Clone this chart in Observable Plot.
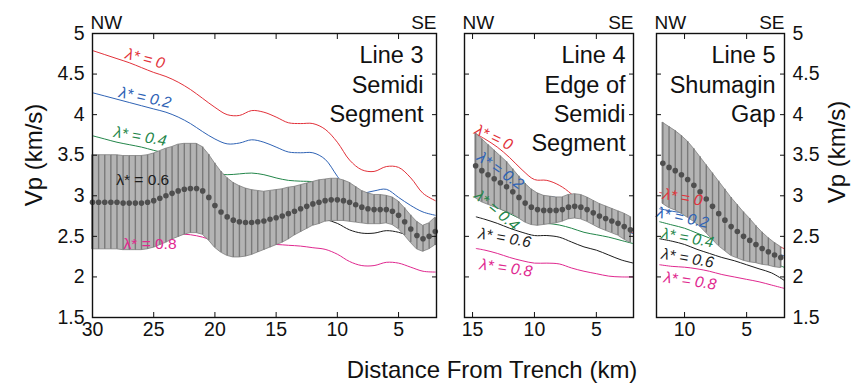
<!DOCTYPE html>
<html><head><meta charset="utf-8">
<script src="https://cdn.jsdelivr.net/npm/d3@7"></script>
<script src="https://cdn.jsdelivr.net/npm/@observablehq/plot@0.6"></script>
<style>
body{margin:0;background:#fff;font-family:"Liberation Sans",Arial,Helvetica,sans-serif;}
#wrap{position:relative;width:854px;height:384px;overflow:hidden;background:#fff;}
.p{position:absolute;top:0;}
.lab{position:absolute;font-size:24px;color:#111;white-space:nowrap;line-height:1;}
</style></head><body>
<div id="wrap"></div>
<script>
// ---------- shared labels / ticks ----------
const lambdaLabels = ["λ* = 0", "λ* = 0.2", "λ* = 0.4", "λ* = 0.6", "λ* = 0.8"];
const yTicks = [1.5, 2, 2.5, 3, 3.5, 4, 4.5, 5];
const xTitle = "Distance From Trench (km)";
const yTitle = "Vp (km/s)";

// ---------- Line 3 (Semidi Segment) ----------
const line3Ticks = [30, 25, 20, 15, 10, 5];
const line3Dist = [30,29.5,29,28.5,28,27.5,27,26.5,26,25.5,25,24.5,24,23.5,23,22.5,22,21.5,21,20.5,20,19.5,19,18.5,18,17.5,17,16.5,16,15.5,15,14.5,14,13.5,13,12.5,12,11.5,11,10.5,10,9.5,9,8.5,8,7.5,7,6.5,6,5.5,5,4.5,4,3.5,3,2.5,2];
const line3Mean = [2.92,2.92,2.92,2.92,2.92,2.91,2.91,2.91,2.91,2.92,2.94,2.97,3.00,3.03,3.06,3.08,3.09,3.09,3.06,2.98,2.88,2.80,2.74,2.70,2.68,2.67,2.67,2.68,2.69,2.71,2.73,2.75,2.78,2.81,2.84,2.87,2.90,2.92,2.94,2.95,2.95,2.94,2.92,2.89,2.86,2.84,2.83,2.83,2.83,2.81,2.76,2.68,2.59,2.51,2.47,2.50,2.56];
const line3Err = [0.58,0.58,0.58,0.58,0.58,0.58,0.58,0.58,0.58,0.58,0.58,0.58,0.58,0.57,0.57,0.56,0.55,0.55,0.54,0.53,0.52,0.50,0.48,0.46,0.44,0.42,0.40,0.38,0.36,0.35,0.34,0.33,0.32,0.30,0.29,0.28,0.27,0.27,0.26,0.26,0.26,0.25,0.24,0.22,0.20,0.19,0.18,0.18,0.17,0.17,0.17,0.17,0.17,0.17,0.16,0.16,0.17];
const line3LamDist = [30,29,28,27,26,25,24,23,22,21,20,19,18,17,16,15,14,13,12,11,10,9,8,7,6,5,4,3,2];
const line3Lam0 = [4.79,4.74,4.69,4.64,4.58,4.52,4.47,4.40,4.31,4.20,4.09,4.00,3.99,4.05,4.03,3.97,3.90,3.89,3.89,3.82,3.66,3.44,3.32,3.30,3.36,3.35,3.22,3.03,2.94];
const line3Lam2 = [4.27,4.23,4.19,4.15,4.11,4.07,4.03,3.97,3.89,3.79,3.70,3.64,3.65,3.69,3.66,3.60,3.54,3.53,3.53,3.45,3.24,3.04,3.03,3.06,3.08,2.98,2.88,2.80,2.76];
const line3Lam4 = [3.74,3.70,3.66,3.63,3.60,3.56,3.52,3.46,3.40,3.34,3.28,3.26,3.27,3.28,3.26,3.22,3.19,3.18,3.17,3.10,2.98,2.84,2.80,2.80,2.82,2.76,2.68,2.62,2.58];
const line3Lam6 = [3.20,3.18,3.16,3.14,3.12,3.10,3.08,3.05,3.02,2.97,2.92,2.87,2.84,2.83,2.82,2.80,2.78,2.76,2.74,2.71,2.66,2.58,2.54,2.54,2.57,2.55,2.50,2.45,2.40];
const line3Lam8 = [2.60,2.60,2.59,2.58,2.57,2.55,2.54,2.53,2.52,2.49,2.44,2.41,2.40,2.40,2.40,2.40,2.39,2.38,2.36,2.34,2.28,2.19,2.14,2.14,2.18,2.17,2.12,2.07,2.06];

// ---------- Line 4 (Edge of Semidi Segment) ----------
const line4Ticks = [15, 10, 5];
const line4Dist = [14.75,14.25,13.75,13.25,12.75,12.25,11.75,11.25,10.75,10.25,9.75,9.25,8.75,8.25,7.75,7.25,6.75,6.25,5.75,5.25,4.75,4.25,3.75,3.25,2.75,2.25];
const line4Mean = [3.37,3.31,3.26,3.21,3.16,3.11,3.05,2.98,2.91,2.86,2.83,2.82,2.82,2.82,2.83,2.86,2.87,2.86,2.83,2.79,2.75,2.72,2.69,2.66,2.62,2.58];
const line4Err = [0.40,0.39,0.37,0.35,0.33,0.31,0.28,0.26,0.24,0.22,0.20,0.18,0.17,0.16,0.15,0.15,0.15,0.15,0.15,0.15,0.15,0.15,0.15,0.15,0.16,0.16];
const line4LamDist = [14.7,14,13,12,11,10,9,8,7,6,5,4,3,2];
const line4Lam0 = [3.76,3.70,3.60,3.47,3.32,3.20,3.19,3.13,3.02,2.86,2.74,2.66,2.60,2.54];
const line4Lam2 = [3.56,3.48,3.36,3.22,3.08,3.00,2.99,2.97,2.88,2.76,2.68,2.63,2.59,2.53];
const line4Lam4 = [3.00,2.95,2.86,2.78,2.71,2.67,2.66,2.64,2.60,2.55,2.52,2.49,2.45,2.41];
const line4Lam6 = [2.74,2.71,2.66,2.60,2.55,2.51,2.51,2.49,2.43,2.37,2.33,2.27,2.21,2.17];
const line4Lam8 = [2.35,2.33,2.29,2.24,2.20,2.17,2.17,2.16,2.11,2.07,2.04,2.01,2.00,2.00];

// ---------- Line 5 (Shumagin Gap) ----------
const line5Ticks = [10, 5];
const line5Dist = [11.75,11.25,10.75,10.25,9.75,9.25,8.75,8.25,7.75,7.25,6.75,6.25,5.75,5.25,4.75,4.25,3.75,3.25,2.75,2.25];
const line5Mean = [3.40,3.35,3.31,3.26,3.20,3.13,3.05,2.96,2.87,2.78,2.70,2.62,2.56,2.50,2.45,2.40,2.35,2.31,2.27,2.24];
const line5Err = [0.50,0.50,0.49,0.48,0.47,0.45,0.43,0.42,0.41,0.40,0.38,0.36,0.33,0.30,0.27,0.23,0.20,0.17,0.15,0.13];
const line5LamDist = [12,11,10,9,8,7,6,5,4,3,2];
const line5Lam0 = [3.04,3.01,2.98,2.92,2.85,2.76,2.66,2.58,2.50,2.42,2.35];
const line5Lam2 = [2.84,2.81,2.78,2.72,2.66,2.58,2.50,2.44,2.38,2.32,2.26];
const line5Lam4 = [2.68,2.64,2.60,2.54,2.48,2.41,2.35,2.29,2.24,2.18,2.12];
const line5Lam6 = [2.47,2.44,2.40,2.34,2.29,2.24,2.20,2.15,2.10,2.05,1.96];
const line5Lam8 = [2.15,2.13,2.12,2.10,2.07,2.03,2.00,1.97,1.94,1.90,1.86];

// ---------- styling ----------
const lambdaColors = ["#e2313a", "#2f63b5", "#23864a", "#1c1c1c", "#e0288f"];
const FONT = "'Liberation Sans', Arial, Helvetica, sans-serif";
const fmt = d => String(d);

function panel(cfg) {
  const rows = cfg.dist.map((d, i) => ({d, m: cfg.mean[i], e: cfg.err[i]}));
  const lamSeries = cfg.lam.map((vals, k) => cfg.lamDist.map((d, i) => ({d, v: vals[i], k})));
  const labelRows = lambdaLabels.map((t, k) => ({
    t, k, x: cfg.labelAt[k][0], y: cfg.labelAt[k][1], r: cfg.labelAt[k][2], it: cfg.labelAt[k][3]
  }));
  const marks = [];
  lamSeries.forEach((s, k) => marks.push(Plot.line(s, {x: "d", y: "v", stroke: lambdaColors[k], strokeWidth: 1, curve: "catmull-rom"})));
  marks.push(
    Plot.areaY(rows, {x: "d", y1: r => r.m - r.e, y2: r => r.m + r.e, fill: "#b4b4b4", stroke: "#808080", strokeWidth: 0.8}),
    Plot.ruleX(rows, {x: "d", y1: r => r.m - r.e, y2: r => r.m + r.e, stroke: "#7a7a7a", strokeWidth: 1.4}),
    Plot.dot(rows, {x: "d", y: "m", r: 2.8, fill: "#4f4f4f", stroke: "none"})
  );
  labelRows.forEach(l => marks.push(Plot.text([l], {
    x: "x", y: "y", text: "t", rotate: l.r, fill: lambdaColors[l.k], fontSize: 15.5,
    fontStyle: l.it ? "italic" : "normal"
  })));
  marks.push(
    Plot.text([cfg.title], {frameAnchor: "top-right", textAnchor: "end", lineAnchor: "top", dx: cfg.titleDx, dy: 9, fontSize: 23.5, lineHeight: 1.25, fill: "#111"}),
    Plot.text(["NW"], {frameAnchor: "top-left", textAnchor: "start", lineAnchor: "bottom", dx: -2, dy: -5, fontSize: 19, fill: "#111"}),
    Plot.text(["SE"], {frameAnchor: "top-right", textAnchor: "end", lineAnchor: "bottom", dx: 0, dy: -5, fontSize: 19, fill: "#111"}),
    Plot.axisX({anchor: "bottom", ticks: cfg.xTicks, tickSize: -5, fill: "none", label: null}),
    Plot.axisX({anchor: "top", ticks: cfg.xTicks, tickSize: -5, fill: "none", label: null}),
    Plot.axisY({anchor: "left", ticks: yTicks, tickSize: -5, fill: "none", label: null}),
    Plot.axisY({anchor: "right", ticks: yTicks, tickSize: -5, fill: "none", label: null}),
    Plot.axisX({anchor: "bottom", ticks: cfg.xTicks, tickFormat: fmt, tickSize: 0, tickPadding: 5, stroke: "none", fontSize: 19.5, fill: "#111", label: null})
  );
  if (cfg.leftLabels) marks.push(Plot.axisY({anchor: "left", ticks: yTicks, tickFormat: fmt, tickSize: 0, tickPadding: 8, stroke: "none", fontSize: 19.5, fill: "#111", label: null}));
  if (cfg.rightLabels) marks.push(Plot.axisY({anchor: "right", ticks: yTicks, tickFormat: fmt, tickSize: 0, tickPadding: 8, stroke: "none", fontSize: 19.5, fill: "#111", label: null}));
  marks.push(Plot.frame({stroke: "#111", strokeWidth: 1.4}));

  const svg = Plot.plot({
    width: cfg.width, height: 384,
    marginTop: 33, marginBottom: 67, marginLeft: cfg.marginLeft, marginRight: cfg.marginRight,
    x: {domain: cfg.xDomain},
    y: {domain: [1.5, 5]},
    style: {fontFamily: FONT, color: "#111", background: "transparent", overflow: "visible"},
    marks
  });
  svg.classList.add("p");
  svg.style.left = cfg.left + "px";
  return svg;
}

const wrap = document.getElementById("wrap");
wrap.appendChild(panel({
  left: 0, width: 445, marginLeft: 92, marginRight: 9, xDomain: [30, 1.9], xTicks: line3Ticks,
  dist: line3Dist, mean: line3Mean, err: line3Err,
  lamDist: line3LamDist, lam: [line3Lam0, line3Lam2, line3Lam4, line3Lam6, line3Lam8],
  labelAt: [[25.7, 4.69, 15, true], [25.7, 4.21, 12, true], [26.1, 3.73, 10, true], [25.9, 3.20, 0, false], [25.3, 2.41, 0, false]],
  title: "Line 3\nSemidi\nSegment", titleDx: -13, leftLabels: true
}));
wrap.appendChild(panel({
  left: 445, width: 200, marginLeft: 19, marginRight: 12, xDomain: [15.65, 2], xTicks: line4Ticks,
  dist: line4Dist, mean: line4Mean, err: line4Err,
  lamDist: line4LamDist, lam: [line4Lam0, line4Lam2, line4Lam4, line4Lam6, line4Lam8],
  labelAt: [[13.3, 3.72, 25, true], [12.75, 3.31, 35, true], [13.05, 2.82, 40, true], [12.4, 2.48, 10, true], [12.3, 2.11, 8, true]],
  title: "Line 4\nEdge of\nSemidi\nSegment", titleDx: -8
}));
wrap.appendChild(panel({
  left: 645, width: 209, marginLeft: 11, marginRight: 70, xDomain: [12.26, 1.95], xTicks: line5Ticks,
  dist: line5Dist, mean: line5Mean, err: line5Err,
  lamDist: line5LamDist, lam: [line5Lam0, line5Lam2, line5Lam4, line5Lam6, line5Lam8],
  labelAt: [[10.15, 2.98, 10, true], [10.15, 2.73, 12, true], [9.75, 2.48, 10, true], [9.75, 2.23, 10, true], [9.55, 1.95, 8, true]],
  title: "Line 5\nShumagin\nGap", titleDx: -9, rightLabels: true
}));

function addLabel(text, x, y, rot) {
  const el = document.createElement("div");
  el.className = "lab";
  el.textContent = text;
  el.style.left = x + "px";
  el.style.top = y + "px";
  el.style.transform = "translate(-50%,-50%)" + (rot ? " rotate(" + rot + "deg)" : "");
  wrap.appendChild(el);
}
addLabel(xTitle, 492, 370, 0);
addLabel(yTitle, 34, 155, -90);
addLabel(yTitle, 837, 152, -90);
</script>
</body></html>
